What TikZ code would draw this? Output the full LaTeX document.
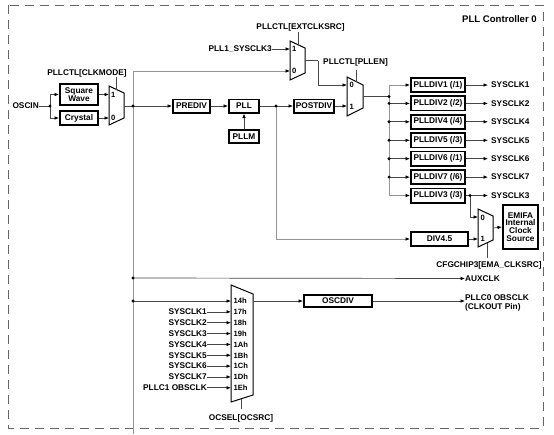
\documentclass[tikz,border=0pt]{standalone}
\usepackage{fontspec}
\setmainfont{Liberation Sans}
\usetikzlibrary{arrows.meta}
\newcommand\lblf{\fontsize{8.3}{8.6}\selectfont\bfseries}
\newcommand\smallf{\fontsize{7.6}{8}\selectfont\bfseries}
\newcommand\titlef{\fontsize{9.6}{11}\selectfont\bfseries}
\colorlet{wdark}{black!72}
\colorlet{wlight}{black!42}
\tikzset{
  blk/.style={draw, line width=1.7pt, inner sep=0pt, font=\lblf, align=center},
  muxs/.style={draw, line width=1pt, fill=white, line join=miter},
  wire/.style={draw=wdark, line width=0.7pt},
  lwire/.style={draw=wlight, line width=0.7pt},
  arr/.style={wire, -{Latex[length=4.5pt,width=3.6pt,color=black]}},
  larr/.style={lwire, -{Latex[length=4.5pt,width=3.6pt,color=black]}},
  lbl/.style={inner sep=0pt, font=\lblf},
  mlbl/.style={inner sep=0pt, font=\smallf, anchor=west},
  jdot/.style={circle, fill=black, inner sep=0pt, minimum size=3.2pt},
}
\begin{document}
\begin{tikzpicture}[x=1pt,y=-1pt]
\useasboundingbox (0,0) rectangle (554,434);
% border
\draw[black!60, line width=0.8pt, dash pattern=on 9pt off 6pt] (8,5) rectangle (543,428);
\node[lbl, font=\titlef, anchor=east] (title) at (537,19) {PLL Controller 0};

% input section
\node[lbl, anchor=east] (oscin) at (39,106) {OSCIN};
\coordinate (j0) at (50,106);
\node[blk, minimum width=38.3pt, minimum height=21.3pt] (sq) at (79,94.5) {Square\\Wave};
\node[blk, minimum width=38.3pt, minimum height=14.3pt] (cr) at (79,118) {Crystal};

% mux1 (CLKMODE)
\draw[muxs] (109,86) -- (124,93) -- (124,118) -- (109,125) -- cycle;
\coordinate (m1a) at (109,94.5);
\coordinate (m1b) at (109,118);
\coordinate (m1o) at (124,106);
\coordinate (m1s) at (116.5,89.5);
\node[mlbl] (m1l1) at (111,95) {1};
\node[mlbl] (m1l0) at (111,118) {0};
\node[lbl] (clkmode) at (87,73) {PLLCTL[CLKMODE]};
\coordinate (m1st) at (116.5,77);

\draw[wire] (oscin.east) -- (j0);
\draw[arr] (j0) |- (sq.west);
\draw[arr] (j0) |- (cr.west);
\draw[arr] (sq.east) -- (m1a);
\draw[arr] (cr.east) -- (m1b);
\draw[wire] (m1s) -- (m1st);
\node[jdot] (dj0) at (j0) {};

% main trunk
\coordinate (t0) at (133,106);
\coordinate (ttop) at (133,71);
\coordinate (tbot) at (133,434);
\coordinate (taux) at (133,278);
\coordinate (tosc) at (133,301);
\draw[wire] (m1o) -- (t0);
\draw[lwire] (ttop) -- (tbot);

% mux2 (EXTCLKSRC)
\draw[muxs] (290,41) -- (305,48) -- (305,73) -- (290,80) -- cycle;
\coordinate (m2a) at (290,49);
\coordinate (m2b) at (290,71);
\coordinate (m2o) at (305,60.5);
\coordinate (m2s) at (298,44.7);
\coordinate (m2st) at (298,32);
\node[mlbl] (m2l1) at (292,49) {1};
\node[mlbl] (m2l0) at (292,71) {0};
\node[lbl] (extclk) at (300.5,27) {PLLCTL[EXTCLKSRC]};
\node[lbl, anchor=east] (sys3in) at (272,49) {PLL1\_SYSCLK3};
\draw[arr] (sys3in.east) -- (m2a);
\draw[larr] (ttop) -- (m2b);
\draw[wire] (m2s) -- (m2st);

% PLL chain
\node[blk, minimum width=37.3pt, minimum height=13.3pt] (prediv) at (191.5,106) {PREDIV};
\node[blk, minimum width=30.3pt, minimum height=13.3pt] (pll) at (244,106) {PLL};
\node[blk, minimum width=30.3pt, minimum height=13.3pt] (pllm) at (244,136.5) {PLLM};
\node[blk, minimum width=40.3pt, minimum height=13.3pt] (postdiv) at (314,106) {POSTDIV};
\coordinate (j1) at (276,106);
\draw[arr] (t0) -- (prediv.west);
\draw[arr] (prediv.east) -- (pll.west);
\draw[arr] (pllm.north) -- (pll.south);
\draw[wire] (pll.east) -- (j1);
\draw[arr] (j1) -- (postdiv.west);

% mux3 (PLLEN)
\draw[muxs] (347,77) -- (363,85) -- (363,108) -- (347,116) -- cycle;
\coordinate (m3a) at (347,85);
\coordinate (m3b) at (347,106);
\coordinate (m3o) at (363,96.5);
\coordinate (m3s) at (356,81.5);
\coordinate (m3st) at (356,70);
\node[mlbl] (m3l0) at (349.5,85) {0};
\node[mlbl] (m3l1) at (349.5,106.5) {1};
\node[lbl] (pllen) at (355.5,62) {PLLCTL[PLLEN]};
\draw[wire] (m3s) -- (m3st);
\coordinate (m2k) at (318,60.5);
\draw[wire] (m2o) -- (m2k);
\draw[arr] (m2k) |- (m3a);
\draw[arr] (postdiv.east) -- (m3b);

% PLLDIV bank
\coordinate (bus) at (389,96.5);
\draw[wire] (m3o) -- (bus);
\foreach \n/\t/\y/\o in {d1/{PLLDIV1 (/1)}/85/SYSCLK1, d2/{PLLDIV2 (/2)}/103.4/SYSCLK2, d4/{PLLDIV4 (/4)}/121.8/SYSCLK4, d5/{PLLDIV5 (/3)}/140.3/SYSCLK5, d6/{PLLDIV6 (/1)}/158.7/SYSCLK6, d7/{PLLDIV7 (/6)}/177.1/SYSCLK7, d3/{PLLDIV3 (/3)}/195.5/SYSCLK3}{
  \node[blk, minimum width=54.3pt, minimum height=14.3pt] (\n) at (438,\y) {\t};
  \node[lbl, anchor=west] (\n o) at (491,\y) {\o};
}
\draw[larr] (bus) |- (d1.west);
\draw[larr] (bus) |- (d3.west);
\foreach \n in {d2,d4,d5,d6,d7}{
  \draw[arr] (bus |- \n.west) -- (\n.west);
  \node[jdot] at (bus |- \n.west) {};
}
\node[jdot] (dbus) at (bus) {};
\foreach \n in {d1,d2,d4,d5,d6,d7}{
  \draw[arr] (\n.east) -- ([xshift=22pt]\n.east);
}
\coordinate (j3) at (470,195.5);
\draw[wire] (d3.east) -- (j3);
\draw[arr] (j3) -- (488,195.5);

% mux4 (EMA_CLKSRC)
\draw[muxs] (478,209) -- (493,216) -- (493,240) -- (478,247) -- cycle;
\coordinate (m4a) at (478,217);
\coordinate (m4b) at (478,239);
\coordinate (m4o) at (493,228);
\coordinate (m4s) at (487,242.8);
\coordinate (m4st) at (487,258);
\node[mlbl] (m4l0) at (480.5,217.5) {0};
\node[mlbl] (m4l1) at (480.5,239) {1};
\node[blk, minimum width=35.3pt, minimum height=44.3pt, font=\lblf\linespread{0.9}\selectfont] (emifa) at (520.5,227) {EMIFA\\Internal\\Clock\\Source};
\node[blk, minimum width=57.3pt, minimum height=14.3pt] (div45) at (439.5,239) {DIV4.5};
\node[lbl] (emasel) at (489,265.5) {CFGCHIP3[EMA\_CLKSRC]};
\draw[arr] (j3) |- (m4a);
\node[jdot] (dj3) at (j3) {};
\draw[arr] (div45.east) -- (m4b);
\draw[arr] (m4o) -- (emifa.west);
\draw[wire] (m4s) -- (m4st);
\draw[larr] (j1) |- (div45.west);
\node[jdot] (dj1) at (j1) {};

% AUXCLK
\node[lbl, anchor=west] (aux) at (465,278.5) {AUXCLK};
\draw[arr] (taux) -- (aux.west);

% OCSEL mux
\draw[muxs] (231,285) -- (253,294) -- (253,395) -- (231,402) -- cycle;
\coordinate (m5o) at (253,301);
\coordinate (m5s) at (241,398.8);
\coordinate (m5st) at (241,409);
\node[lbl] (ocsel) at (241,418.5) {OCSEL[OCSRC]};
\draw[wire] (m5s) -- (m5st);
\foreach \i/\h in {0/14h, 1/17h, 2/18h, 3/19h, 4/1Ah, 5/1Bh, 6/1Ch, 7/1Dh, 8/1Eh}{
  \pgfmathsetmacro\yy{301+10.85*\i}
  \node[mlbl] (in\i) at (233.5,\yy) {\h};
  \coordinate (mi\i) at (231,\yy);
}
\foreach \i/\s in {1/SYSCLK1, 2/SYSCLK2, 3/SYSCLK3, 4/SYSCLK4, 5/SYSCLK5, 6/SYSCLK6, 7/SYSCLK7, 8/{PLLC1 OBSCLK}}{
  \pgfmathsetmacro\yy{301+10.85*\i}
  \node[lbl, anchor=east] (src\i) at (207,\yy) {\s};
  \draw[arr] (src\i.east) -- (mi\i);
}
\draw[arr] (tosc) -- (mi0);
\node[blk, minimum width=68.3pt, minimum height=12.3pt] (oscdiv) at (338,301) {OSCDIV};
\draw[arr] (m5o) -- (oscdiv.west);
\node[lbl, anchor=north west, align=left] (obs) at (465,294.5) {PLLC0 OBSCLK\\(CLKOUT Pin)};
\draw[arr] (oscdiv.east) -- (obs.west |- oscdiv.east);

% junction dots on trunk
\node[jdot] (dt0) at (t0) {};
\node[jdot] (dtaux) at (taux) {};
\node[jdot] (dtosc) at (tosc) {};
\end{tikzpicture}
\end{document}
